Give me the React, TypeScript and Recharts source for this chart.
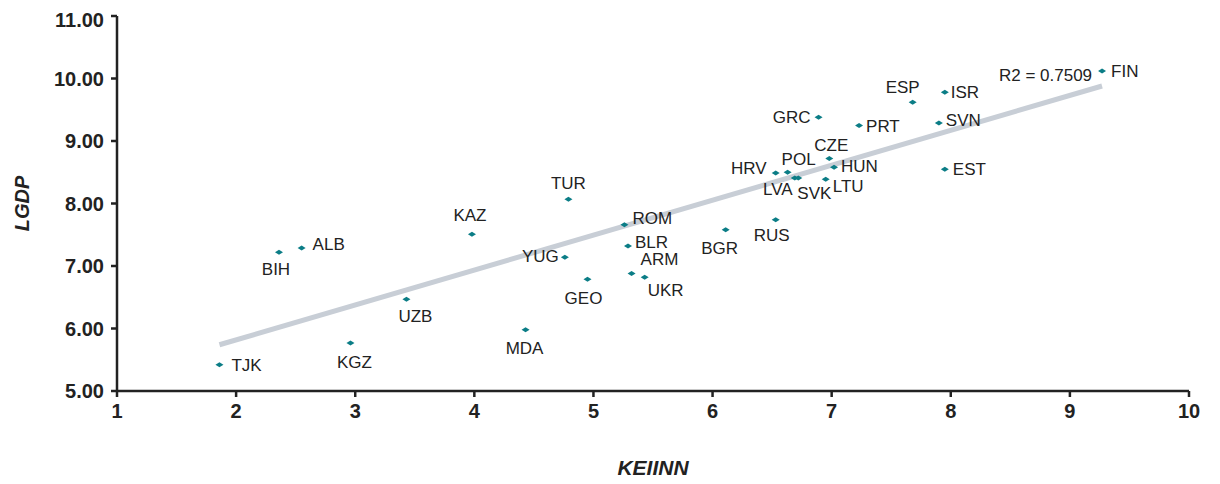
import React from "react";
import {
  ScatterChart,
  Scatter,
  XAxis,
  YAxis,
  Label,
} from "recharts";

// country codes and values
const countries = [
  "TJK", "BIH", "ALB", "KGZ", "UZB", "KAZ", "MDA", "TUR", "YUG", "GEO",
  "ROM", "BLR", "ARM", "UKR", "BGR", "RUS", "HRV", "POL", "LVA", "SVK",
  "LTU", "CZE", "HUN", "GRC", "PRT", "ESP", "ISR", "SVN", "EST", "FIN",
];
const keiinn = [
  1.86, 2.36, 2.55, 2.96, 3.43, 3.98, 4.43, 4.79, 4.76, 4.95,
  5.26, 5.29, 5.32, 5.43, 6.11, 6.53, 6.53, 6.63, 6.69, 6.72,
  6.95, 6.98, 7.02, 6.89, 7.23, 7.68, 7.95, 7.90, 7.95, 9.27,
];
const lgdp = [
  5.42, 7.22, 7.29, 5.77, 6.47, 7.51, 5.98, 8.07, 7.14, 6.79,
  7.66, 7.32, 6.88, 6.82, 7.58, 7.74, 8.49, 8.50, 8.41, 8.41,
  8.39, 8.72, 8.58, 9.38, 9.25, 9.62, 9.78, 9.29, 8.55, 10.12,
];

// linear trend end points
const trendX = [1.86, 9.27];
const trendY = [5.74, 9.88];
const r2Text = "R2 = 0.7509";

const xTicks = [1, 2, 3, 4, 5, 6, 7, 8, 9, 10];
const yTicks = [5, 6, 7, 8, 9, 10, 11];

const points = countries.map((c, i) => ({ name: c, x: keiinn[i], y: lgdp[i] }));
const trend = trendX.map((x, i) => ({ x, y: trendY[i] }));

// label placement: dx, dy from the marker, text anchor
const labelPos: Record<string, [number, number, string]> = {
  TJK: [12, 1, "start"],
  BIH: [-3, 17, "middle"],
  ALB: [11, -3, "start"],
  KGZ: [4, 20, "middle"],
  UZB: [9, 17, "middle"],
  KAZ: [-2, -19, "middle"],
  MDA: [-1, 19, "middle"],
  TUR: [0, -16, "middle"],
  YUG: [-6, -1, "end"],
  GEO: [-4, 19, "middle"],
  ROM: [8, -6, "start"],
  BLR: [7, -4, "start"],
  ARM: [9, -14, "start"],
  UKR: [3, 13, "start"],
  BGR: [-6, 19, "middle"],
  RUS: [-4, 16, "middle"],
  HRV: [-9, -4, "end"],
  POL: [11, -13, "middle"],
  LVA: [-17, 12, "middle"],
  SVK: [16, 16, "middle"],
  LTU: [7, 7, "start"],
  CZE: [2, -13, "middle"],
  HUN: [7, -1, "start"],
  GRC: [-8, 0, "end"],
  PRT: [7, 1, "start"],
  ESP: [-10, -15, "middle"],
  ISR: [6, 0, "start"],
  SVN: [7, -2, "start"],
  EST: [8, 0, "start"],
  FIN: [9, 0, "start"],
};

const labelFont = "'Liberation Sans', Arial, sans-serif";
const axisFont = "'Liberation Sans', Arial, sans-serif";

function CountryDot(props: any) {
  const { cx, cy, payload } = props;
  const pos = labelPos[payload.name] || [8, 0, "start"];
  return (
    <g>
      <polygon
        points={`${cx - 4},${cy} ${cx},${cy - 2.5} ${cx + 4},${cy} ${cx},${cy + 2.5}`}
        fill="#0b7d86"
      />
      <text
        x={cx + pos[0]}
        y={cy + pos[1]}
        textAnchor={pos[2] as any}
        dominantBaseline="central"
        fontFamily={labelFont}
        fontSize={17}
        fill="#222"
      >
        {payload.name}
      </text>
    </g>
  );
}

function TrendEnd(props: any) {
  const { cx, cy, payload } = props;
  if (payload.x !== trendX[1]) return <g />;
  return (
    <text
      x={cx - 10}
      y={cy - 11}
      textAnchor="end"
      dominantBaseline="central"
      fontFamily={labelFont}
      fontSize={17}
      fill="#222"
    >
      {r2Text}
    </text>
  );
}

export default function App() {
  return (
    <div style={{ width: 1212, height: 476, background: "#fff" }}>
      <ScatterChart
        width={1212}
        height={476}
        margin={{ top: 8, right: 31, left: 0, bottom: 33 }}
      >
        <XAxis
          type="number"
          dataKey="x"
          domain={[1, 10]}
          ticks={xTicks}
          height={60}
          stroke="#222"
          strokeWidth={2.5}
          tickSize={6}
          tickMargin={7}
          tick={{ fill: "#222", fontSize: 20, fontWeight: "bold", fontFamily: axisFont }}
        >
          <Label
            value="KEIINN"
            position="insideBottom"
            offset={0}
            dy={24}
            style={{ fill: "#222", fontSize: 21, fontWeight: "bold", fontStyle: "italic", fontFamily: axisFont }}
          />
        </XAxis>
        <YAxis
          type="number"
          dataKey="y"
          domain={[5, 11]}
          ticks={yTicks}
          width={109}
          stroke="#222"
          strokeWidth={2.5}
          tickSize={6}
          tickMargin={7}
          tickFormatter={(v: number) => v.toFixed(2)}
          tick={{ fill: "#222", fontSize: 20, fontWeight: "bold", fontFamily: axisFont }}
        >
          <Label
            value="LGDP"
            angle={-90}
            position="insideLeft"
            offset={14}
            style={{ fill: "#222", fontSize: 20, fontWeight: "bold", fontStyle: "italic", fontFamily: axisFont, textAnchor: "middle" }}
          />
        </YAxis>
        <Scatter
          data={trend}
          line={{ stroke: "#c8ced6", strokeWidth: 5 }}
          shape={TrendEnd}
          isAnimationActive={false}
        />
        <Scatter data={points} shape={CountryDot} isAnimationActive={false} />
      </ScatterChart>
    </div>
  );
}
